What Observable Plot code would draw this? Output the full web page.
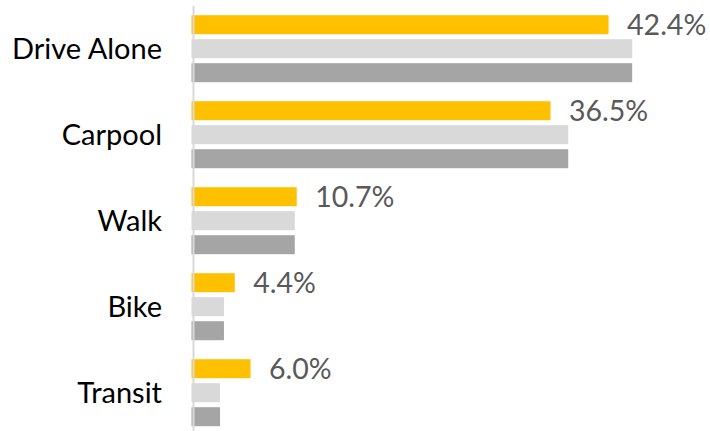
<!DOCTYPE html>
<html>
<head>
<meta charset="utf-8">
<script src="https://cdn.jsdelivr.net/npm/d3@7"></script>
<script src="https://cdn.jsdelivr.net/npm/@observablehq/plot@0.6"></script>
<style>
  html, body { margin: 0; padding: 0; background: #fff; }
</style>
</head>
<body>
<div id="chart"></div>
<script>
const categories = ["Drive Alone", "Carpool", "Walk", "Bike", "Transit"];
const seriesNames = ["Series 1", "Series 2", "Series 3"];
const series1 = [42.4, 36.5, 10.7, 4.4, 6.0];
const series2 = [44.8, 38.3, 10.5, 3.3, 2.9];
const series3 = [44.8, 38.3, 10.5, 3.3, 2.9];
const seriesColors = ["#FFC000", "#D9D9D9", "#A5A5A5"];

const allSeries = [series1, series2, series3];
const rows = [];
categories.forEach((c, i) => {
  allSeries.forEach((s, j) => {
    rows.push({category: c, series: seriesNames[j], value: s[i]});
  });
});

const chart = Plot.plot({
  width: 710,
  height: 431,
  marginLeft: 191.5,
  marginRight: 7,
  marginTop: 4.8,
  marginBottom: -5.7,
  style: {fontFamily: "Lato", fontSize: "29px", color: "#000", background: "#fff", overflow: "visible"},
  x: {domain: [0, 52], axis: null},
  y: {domain: seriesNames, axis: null, paddingInner: 0.2, paddingOuter: 0.328},
  fy: {domain: categories, padding: 0, axis: "left", label: null, tickSize: 0, tickPadding: 30},
  color: {domain: seriesNames, range: seriesColors},
  marks: [
    Plot.barX(rows, {x: "value", y: "series", fy: "category", fill: "series"}),
    Plot.ruleX([0], {stroke: "#D9D9D9", strokeWidth: 2, dx: 1.5}),
    Plot.text(rows.filter(d => d.series === seriesNames[0]), {
      x: "value", y: "series", fy: "category",
      text: d => d.value.toFixed(1) + "%",
      textAnchor: "start", dx: 18, dy: 1, fill: "#595959", fontSize: 28.5
    })
  ]
});
document.getElementById("chart").appendChild(chart);
</script>
</body>
</html>
